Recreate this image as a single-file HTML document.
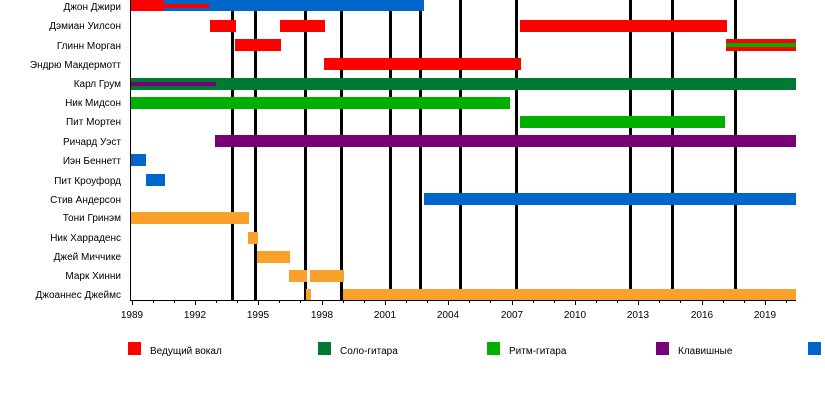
<!DOCTYPE html>
<html><head><meta charset="utf-8"><style>
body{margin:0;background:#fff;}
svg{display:block;font-family:"Liberation Sans",sans-serif;}
</style></head><body>
<svg width="825" height="420" xmlns="http://www.w3.org/2000/svg">
<g font-size="10" fill="#000" text-anchor="end">
<text x="121" y="10">Джон Джири</text>
<text x="121" y="29">Дэмиан Уилсон</text>
<text x="121" y="49">Глинн Морган</text>
<text x="121" y="68">Эндрю Макдермотт</text>
<text x="121" y="87">Карл Грум</text>
<text x="121" y="106">Ник Мидсон</text>
<text x="121" y="125">Пит Мортен</text>
<text x="121" y="145">Ричард Уэст</text>
<text x="121" y="164">Иэн Беннетт</text>
<text x="121" y="184">Пит Кроуфорд</text>
<text x="121" y="203">Стив Андерсон</text>
<text x="121" y="221">Тони Гринэм</text>
<text x="121" y="241">Ник Харраденс</text>
<text x="121" y="260">Джей Миччике</text>
<text x="121" y="279">Марк Хинни</text>
<text x="121" y="298">Джоаннес Джеймс</text>
</g>
<g fill="#000">
<rect x="231" y="0" width="3" height="300"/><rect x="254" y="0" width="3" height="300"/>
<rect x="304" y="0" width="3" height="300"/><rect x="340" y="0" width="3" height="300"/>
<rect x="389" y="0" width="3" height="300"/><rect x="419" y="0" width="3" height="300"/>
<rect x="459" y="0" width="3" height="300"/><rect x="515" y="0" width="3" height="300"/>
<rect x="629" y="0" width="3" height="300"/><rect x="671" y="0" width="3" height="300"/>
<rect x="734" y="0" width="3" height="300"/>
</g>
<g>
<rect x="131" y="0" width="293" height="11" fill="#0066cc"/>
<rect x="131" y="0" width="33" height="11" fill="#ff0000"/>
<rect x="163" y="4" width="46" height="4" fill="#ff0000"/>
<rect x="210" y="20" width="26" height="12" fill="#ff0000"/>
<rect x="280" y="20" width="45" height="12" fill="#ff0000"/>
<rect x="520" y="20" width="207" height="12" fill="#ff0000"/>
<rect x="235" y="39" width="46" height="12" fill="#ff0000"/>
<rect x="726" y="39" width="70" height="12" fill="#ff0000"/>
<rect x="726" y="43" width="70" height="4" fill="#00b000"/>
<rect x="324" y="58" width="197" height="12" fill="#ff0000"/>
<rect x="131" y="78" width="665" height="12" fill="#007a33"/>
<rect x="131" y="82" width="85" height="4" fill="#7a0078"/>
<rect x="131" y="97" width="379" height="12" fill="#00b000"/>
<rect x="520" y="116" width="205" height="12" fill="#00b000"/>
<rect x="215" y="135" width="581" height="12" fill="#7a0078"/>
<rect x="131" y="154" width="15" height="12" fill="#0066cc"/>
<rect x="146" y="174" width="19" height="12" fill="#0066cc"/>
<rect x="424" y="193" width="372" height="12" fill="#0066cc"/>
<rect x="131" y="212" width="118" height="12" fill="#f9a12a"/>
<rect x="248" y="232" width="10" height="12" fill="#f9a12a"/>
<rect x="257" y="251" width="33" height="12" fill="#f9a12a"/>
<rect x="289" y="270" width="18" height="12" fill="#f9a12a"/>
<rect x="310" y="270" width="34" height="12" fill="#f9a12a"/>
<rect x="306" y="289" width="5" height="11" fill="#f9a12a"/>
<rect x="343" y="289" width="453" height="11" fill="#f9a12a"/>
</g>
<rect x="130" y="0" width="1" height="301" fill="#000"/>
<rect x="130" y="300" width="666" height="1" fill="#000"/>
<g fill="#000" id="ticks">
<rect x="132" y="300" width="1" height="5"/><rect x="153" y="300" width="1" height="3"/><rect x="174" y="300" width="1" height="3"/>
<rect x="195" y="300" width="1" height="5"/><rect x="216" y="300" width="1" height="3"/><rect x="237" y="300" width="1" height="3"/>
<rect x="258" y="300" width="1" height="5"/><rect x="279" y="300" width="1" height="3"/><rect x="300" y="300" width="1" height="3"/>
<rect x="322" y="300" width="1" height="5"/><rect x="343" y="300" width="1" height="3"/><rect x="364" y="300" width="1" height="3"/>
<rect x="385" y="300" width="1" height="5"/><rect x="406" y="300" width="1" height="3"/><rect x="427" y="300" width="1" height="3"/>
<rect x="448" y="300" width="1" height="5"/><rect x="469" y="300" width="1" height="3"/><rect x="490" y="300" width="1" height="3"/>
<rect x="512" y="300" width="1" height="5"/><rect x="533" y="300" width="1" height="3"/><rect x="554" y="300" width="1" height="3"/>
<rect x="575" y="300" width="1" height="5"/><rect x="596" y="300" width="1" height="3"/><rect x="617" y="300" width="1" height="3"/>
<rect x="638" y="300" width="1" height="5"/><rect x="659" y="300" width="1" height="3"/><rect x="680" y="300" width="1" height="3"/>
<rect x="702" y="300" width="1" height="5"/><rect x="723" y="300" width="1" height="3"/><rect x="744" y="300" width="1" height="3"/>
<rect x="765" y="300" width="1" height="5"/><rect x="786" y="300" width="1" height="3"/>
</g>
<g font-size="10" text-anchor="middle">
<text x="132" y="318">1989</text><text x="195" y="318">1992</text><text x="258" y="318">1995</text>
<text x="322" y="318">1998</text><text x="385" y="318">2001</text><text x="448" y="318">2004</text>
<text x="512" y="318">2007</text><text x="575" y="318">2010</text><text x="638" y="318">2013</text>
<text x="702" y="318">2016</text><text x="765" y="318">2019</text>
</g>
<g font-size="10">
<rect x="128" y="342" width="13" height="13" fill="#ff0000"/><text x="150" y="354">Ведущий вокал</text>
<rect x="318" y="342" width="13" height="13" fill="#007a33"/><text x="340" y="354">Соло-гитара</text>
<rect x="487" y="342" width="13" height="13" fill="#00b000"/><text x="509" y="354">Ритм-гитара</text>
<rect x="656" y="342" width="13" height="13" fill="#7a0078"/><text x="678" y="354">Клавишные</text>
<rect x="808" y="342" width="13" height="13" fill="#0066cc"/>
</g>
</svg>
</body></html>
